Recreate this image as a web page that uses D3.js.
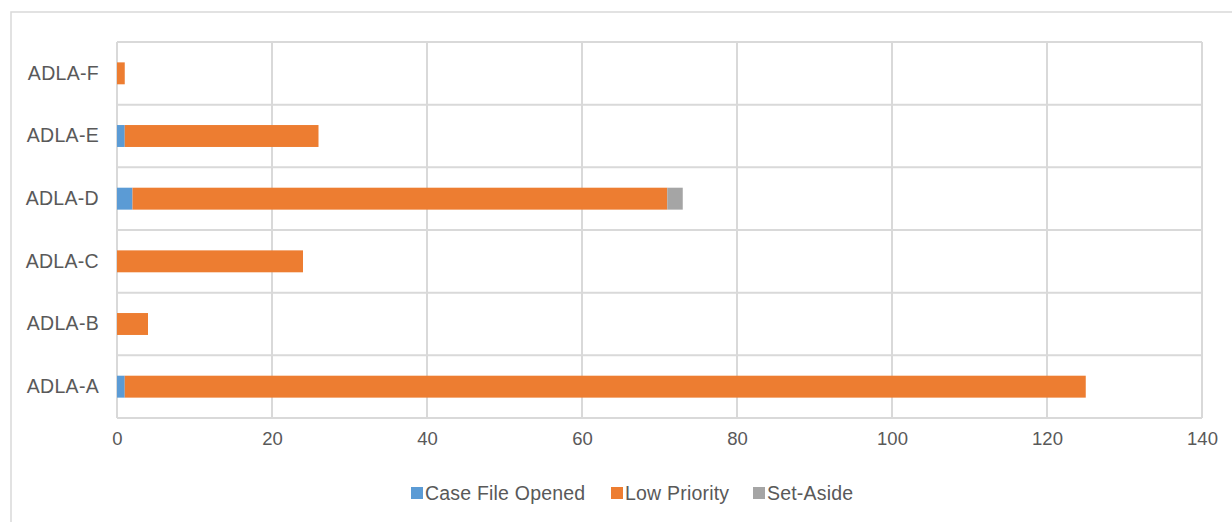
<!DOCTYPE html>
<html lang="en">
<head>
    <meta charset="UTF-8">
    <title>ADLA Case Status</title>
    <script src="https://d3js.org/d3.v7.min.js"></script>
    <style>
        body { margin: 0; background: #fff; }
        text { font-family: "Liberation Sans", Arial, sans-serif; fill: #595959; }
    </style>
</head>
<body>
    <svg width="1232" height="522"></svg>

    <script>
        // Data
        const categories = ["ADLA-A", "ADLA-B", "ADLA-C", "ADLA-D", "ADLA-E", "ADLA-F"];
        const caseFileOpened = [1, 0, 0, 2, 1, 0];
        const lowPriority = [124, 4, 24, 69, 25, 1];
        const setAside = [0, 0, 0, 2, 0, 0];
        const seriesNames = ["Case File Opened", "Low Priority", "Set-Aside"];
        const seriesColors = ["#5B9BD5", "#ED7D31", "#A5A5A5"];
        const xTicks = [0, 20, 40, 60, 80, 100, 120, 140];

        const width = 1232;
        const height = 522;
        const margin = {top: 42, right: 30, bottom: 104, left: 117};

        const svg = d3.select("svg")
            .attr("width", width)
            .attr("height", height);

        // outer chart border (runs off the right and bottom of the picture)
        svg.append("rect")
            .attr("x", 11)
            .attr("y", 12)
            .attr("width", width + 20)
            .attr("height", height + 20)
            .attr("fill", "none")
            .attr("stroke", "#D9D9D9")
            .attr("stroke-width", 1.5);

        // build rows for the stack
        const rows = categories.map((c, i) => ({
            category: c,
            "Case File Opened": caseFileOpened[i],
            "Low Priority": lowPriority[i],
            "Set-Aside": setAside[i]
        }));

        const stacked = d3.stack().keys(seriesNames)(rows);

        const x = d3.scaleLinear()
            .domain([0, 140])
            .range([margin.left, width - margin.right]);

        // first category at the bottom
        const y = d3.scaleBand()
            .domain(categories.slice().reverse())
            .range([margin.top, height - margin.bottom])
            .paddingInner(0.65)
            .paddingOuter(0.325);

        const step = y.step();
        const color = d3.scaleOrdinal().domain(seriesNames).range(seriesColors);

        // vertical gridlines
        svg.append("g")
            .selectAll("line")
            .data(xTicks)
            .join("line")
            .attr("x1", d => x(d))
            .attr("x2", d => x(d))
            .attr("y1", margin.top)
            .attr("y2", height - margin.bottom)
            .attr("stroke", "#D9D9D9")
            .attr("stroke-width", 2);

        // horizontal lines between categories
        const bounds = y.domain().map(c => y(c) - step * y.paddingInner() / 2);
        bounds.push(height - margin.bottom);
        svg.append("g")
            .selectAll("line")
            .data(bounds)
            .join("line")
            .attr("x1", margin.left)
            .attr("x2", width - margin.right)
            .attr("y1", d => d)
            .attr("y2", d => d)
            .attr("stroke", "#D9D9D9")
            .attr("stroke-width", 2);

        // bars
        svg.append("g")
            .selectAll("g")
            .data(stacked)
            .join("g")
            .attr("fill", d => color(d.key))
            .selectAll("rect")
            .data(d => d)
            .join("rect")
            .attr("x", d => x(d[0]))
            .attr("y", d => y(d.data.category))
            .attr("width", d => x(d[1]) - x(d[0]))
            .attr("height", y.bandwidth());

        // x axis labels
        const xAxis = svg.append("g")
            .attr("transform", `translate(0,${height - margin.bottom})`)
            .call(d3.axisBottom(x).tickValues(xTicks).tickSize(0).tickPadding(14));
        xAxis.select(".domain").remove();
        xAxis.selectAll("text")
            .style("font-size", "18.5px")
            .attr("fill", "#595959");

        // y axis labels
        const yAxis = svg.append("g")
            .attr("transform", `translate(${margin.left},0)`)
            .call(d3.axisLeft(y).tickSize(0).tickPadding(18));
        yAxis.select(".domain").remove();
        yAxis.selectAll("text")
            .style("font-size", "19.5px")
            .style("letter-spacing", "0.3px")
            .attr("fill", "#595959");

        // legend
        const legendX = [411, 611, 753];
        const legend = svg.append("g")
            .selectAll("g")
            .data(seriesNames)
            .join("g")
            .attr("transform", (d, i) => `translate(${legendX[i]},493)`);
        legend.append("rect")
            .attr("x", 0)
            .attr("y", -6)
            .attr("width", 12)
            .attr("height", 12)
            .attr("fill", d => color(d));
        legend.append("text")
            .attr("x", 14)
            .attr("dy", "0.35em")
            .style("font-size", "19.5px")
            .style("letter-spacing", "0.2px")
            .text(d => d);
    </script>
</body>
</html>
